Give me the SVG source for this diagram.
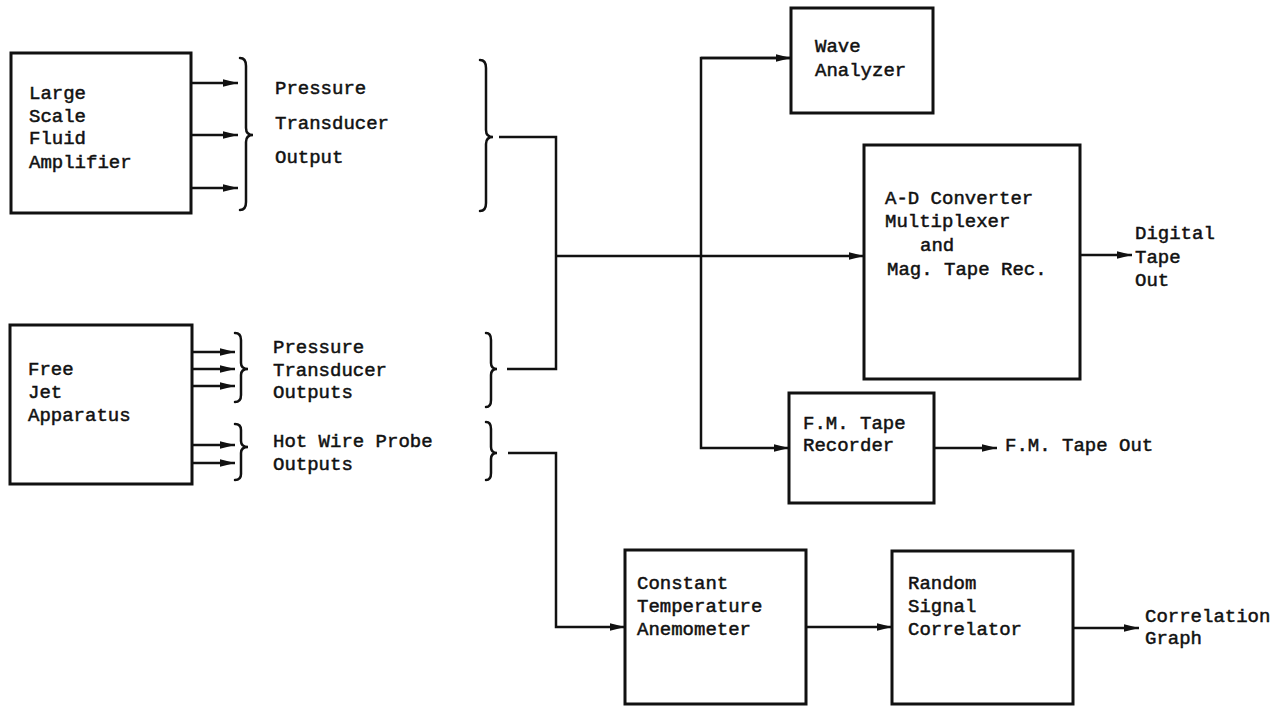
<svg xmlns="http://www.w3.org/2000/svg" width="1288" height="706" viewBox="0 0 1288 706">
<style>
.box{fill:none;stroke:#111;stroke-width:3}
.ln{fill:none;stroke:#111;stroke-width:2.5}
.br{fill:none;stroke:#111;stroke-width:2.5;stroke-linecap:round}
text{font-family:"Liberation Mono","DejaVu Sans Mono",monospace;font-size:19px;fill:#111;stroke:#111;stroke-width:0.5}
</style>
<defs>
<marker id="ah" markerUnits="userSpaceOnUse" markerWidth="16" markerHeight="9" refX="15" refY="4.5" orient="auto">
<path d="M0,0.8 L15,4.5 L0,8.2 Z" fill="#111"/>
</marker>
</defs>
<rect width="1288" height="706" fill="#fff"/>

<g id="large-scale-fluid-amplifier">
<rect class="box" x="11" y="53" width="180" height="160"/>
<text x="29" y="99">Large</text>
<text x="29" y="122">Scale</text>
<text x="29" y="144">Fluid</text>
<text x="29" y="168">Amplifier</text>
</g>

<g id="pressure-transducer-output">
<path class="br" d="M240,58 Q246,58 246,66 L246,128 Q246,135 253,135 Q246,135 246,142 L246,202 Q246,210 240,210"/>
<text x="275" y="94">Pressure</text>
<text x="275" y="129">Transducer</text>
<text x="275" y="163">Output</text>
<path class="br" d="M480,60 Q486,60 486,68 L486,130 Q486,137 493,137 Q486,137 486,144 L486,203 Q486,211 480,211"/>
</g>

<g id="free-jet-apparatus">
<rect class="box" x="10" y="325" width="182" height="159"/>
<text x="28" y="375">Free</text>
<text x="28" y="398">Jet</text>
<text x="28" y="421">Apparatus</text>
</g>

<g id="pressure-transducer-outputs">
<path class="br" d="M235,333 Q241,333 241,340 L241,363 Q241,369 248,369 Q241,369 241,375 L241,395 Q241,402 235,402"/>
<text x="273" y="353">Pressure</text>
<text x="273" y="376">Transducer</text>
<text x="273" y="398">Outputs</text>
<path class="br" d="M486,333 Q491,333 491,340 L491,363 Q491,369 497,369 Q491,369 491,375 L491,400 Q491,407 486,407"/>
</g>

<g id="hot-wire-probe-outputs">
<path class="br" d="M235,424 Q241,424 241,430 L241,441 Q241,447 248,447 Q241,447 241,453 L241,474 Q241,480 235,480"/>
<text x="273" y="447">Hot Wire Probe</text>
<text x="273" y="470">Outputs</text>
<path class="br" d="M486,422 Q491,422 491,429 L491,447 Q491,453 497,453 Q491,453 491,459 L491,473 Q491,480 486,480"/>
</g>

<g id="wave-analyzer">
<rect class="box" x="791" y="8" width="142" height="105"/>
<text x="815" y="52">Wave</text>
<text x="815" y="76">Analyzer</text>
</g>

<g id="ad-converter">
<rect class="box" x="864" y="145" width="216" height="234"/>
<text x="885" y="204">A-D Converter</text>
<text x="885" y="227">Multiplexer</text>
<text x="920" y="251">and</text>
<text x="887" y="275">Mag. Tape Rec.</text>
</g>

<g id="digital-tape-out">
<text x="1135" y="239">Digital</text>
<text x="1135" y="263">Tape</text>
<text x="1135" y="286">Out</text>
</g>

<g id="fm-tape-recorder">
<rect class="box" x="789" y="393" width="145" height="110"/>
<text x="803" y="429">F.M. Tape</text>
<text x="803" y="451">Recorder</text>
</g>

<g id="fm-tape-out">
<text x="1005" y="451">F.M. Tape Out</text>
</g>

<g id="anemometer">
<rect class="box" x="625" y="550" width="181" height="154"/>
<text x="637" y="589">Constant</text>
<text x="637" y="612">Temperature</text>
<text x="637" y="635">Anemometer</text>
</g>

<g id="correlator">
<rect class="box" x="892" y="551" width="181" height="153"/>
<text x="908" y="589">Random</text>
<text x="908" y="612">Signal</text>
<text x="908" y="635">Correlator</text>
</g>

<g id="correlation-graph">
<text x="1145" y="622">Correlation</text>
<text x="1145" y="644">Graph</text>
</g>

<g id="connectors">
<line class="ln" x1="191" y1="83" x2="238" y2="83" marker-end="url(#ah)"/>
<line class="ln" x1="191" y1="135" x2="238" y2="135" marker-end="url(#ah)"/>
<line class="ln" x1="191" y1="188" x2="238" y2="188" marker-end="url(#ah)"/>
<line class="ln" x1="192" y1="352" x2="235" y2="352" marker-end="url(#ah)"/>
<line class="ln" x1="192" y1="369" x2="235" y2="369" marker-end="url(#ah)"/>
<line class="ln" x1="192" y1="386" x2="235" y2="386" marker-end="url(#ah)"/>
<line class="ln" x1="192" y1="445" x2="235" y2="445" marker-end="url(#ah)"/>
<line class="ln" x1="192" y1="463" x2="235" y2="463" marker-end="url(#ah)"/>
<polyline class="ln" points="499,137 556,137 556,369 507,369"/>
<line class="ln" x1="556" y1="256" x2="864" y2="256" marker-end="url(#ah)"/>
<polyline class="ln" points="791,58 701,58 701,448 789,448" marker-end="url(#ah)"/>
<line class="ln" x1="701" y1="58" x2="791" y2="58" marker-end="url(#ah)"/>
<line class="ln" x1="1080" y1="255" x2="1132" y2="255" marker-end="url(#ah)"/>
<line class="ln" x1="934" y1="448" x2="997" y2="448" marker-end="url(#ah)"/>
<polyline class="ln" points="508,453 556,453 556,627 625,627" marker-end="url(#ah)"/>
<line class="ln" x1="806" y1="627" x2="892" y2="627" marker-end="url(#ah)"/>
<line class="ln" x1="1073" y1="628" x2="1139" y2="628" marker-end="url(#ah)"/>
</g>
</svg>
